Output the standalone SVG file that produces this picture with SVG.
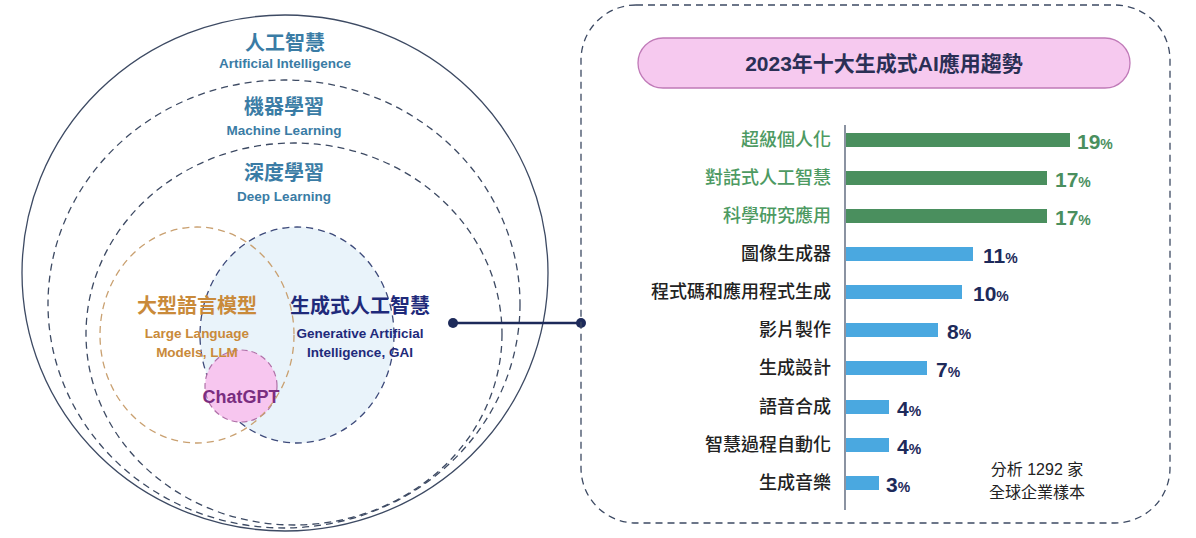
<svg xmlns="http://www.w3.org/2000/svg" width="1196" height="538" viewBox="0 0 1196 538">
<style>
.cj{font-family:"Liberation Sans","Noto Sans CJK TC",sans-serif;text-anchor:middle}
.ai{fill:#3a7ca5}
.en{font-size:13.5px;font-weight:bold}
.zh{font-size:20px;font-weight:bold}
.d{fill:none;stroke:#3d4a63;stroke-width:1.3;stroke-dasharray:7 5}
.lab{font-family:"Noto Sans CJK TC",sans-serif;font-size:18px;font-weight:500;text-anchor:end;fill:#222}
.g{fill:#4d9a62}
.gb{fill:#4a8f5e}
.b{fill:#4aa8e0}
.pct{font-family:"Liberation Sans",sans-serif;font-size:21px;font-weight:bold;fill:#1d2a5a}
.pct tspan{font-size:14px}
.pg{fill:#4a8f5e}
</style>
<rect width="1196" height="538" fill="#fff"/>
<g id="ai">
<ellipse cx="285" cy="273" rx="263" ry="258" fill="none" stroke="#3d4a63" stroke-width="1.3"/>
<text class="cj ai zh" x="285" y="50">人工智慧</text>
<text class="cj ai en" x="285" y="68">Artificial Intelligence</text>
</g>
<g id="ml">
<ellipse cx="284" cy="304" rx="236" ry="224" class="d"/>
<text class="cj ai zh" x="284" y="114">機器學習</text>
<text class="cj ai en" x="284" y="135">Machine Learning</text>
</g>
<g id="dl">
<ellipse cx="294" cy="334" rx="208" ry="191" class="d"/>
<text class="cj ai zh" x="284" y="180">深度學習</text>
<text class="cj ai en" x="284" y="201">Deep Learning</text>
</g>
<g id="gai">
<ellipse cx="297" cy="335" rx="97" ry="108" fill="#e9f3fa" stroke="#3d4a7a" stroke-width="1.3" stroke-dasharray="7 5"/>
</g>
<g id="chatgpt">
<circle cx="241" cy="386" r="36" fill="#f7c6ef" stroke="#b070a8" stroke-width="1.2" stroke-dasharray="6 4"/>
<text class="cj" x="241" y="403" font-size="18" font-weight="bold" fill="#7a2d80">ChatGPT</text>
</g>
<g id="llm">
<ellipse cx="197" cy="335" rx="97" ry="108" fill="none" stroke="#c9a070" stroke-width="1.3" stroke-dasharray="7 5"/>
<text class="cj zh" x="197" y="313" fill="#c98a3a" font-size="19">大型語言模型</text>
<text class="cj en" x="197" y="338" fill="#c98a3a">Large Language</text>
<text class="cj en" x="197" y="357" fill="#c98a3a">Models, LLM</text>
</g>
<g id="gai-text">
<text class="cj zh" x="360" y="313" fill="#1f2a7a" font-size="19">生成式人工智慧</text>
<text class="cj en" x="360" y="338" fill="#1f2a7a">Generative Artificial</text>
<text class="cj en" x="360" y="357" fill="#1f2a7a">Intelligence, GAI</text>
</g>
<g id="connectors">
<line x1="453" y1="323" x2="581" y2="323" stroke="#1d2a5a" stroke-width="2.5"/>
<circle cx="453" cy="323" r="5" fill="#1d2a5a"/>
<circle cx="581" cy="323" r="5" fill="#1d2a5a"/>
</g>
<g id="panel">
<rect x="581" y="5" width="589" height="518" rx="55" fill="none" stroke="#3d4a63" stroke-width="1.3" stroke-dasharray="7 5"/>
<rect x="638" y="38" width="492" height="50" rx="25" fill="#f6c9ef" stroke="#c07ab8" stroke-width="1.3"/>
<text class="cj" x="884" y="71" font-size="21" font-weight="bold" fill="#2a2f55">2023年十大生成式AI應用趨勢</text>
</g>
<g id="chart">
<line x1="845" y1="125" x2="845" y2="510" stroke="#3d4a63" stroke-width="1.2"/>
<text class="lab g" x="831" y="146">超級個人化</text>
<text class="lab g" x="831" y="184">對話式人工智慧</text>
<text class="lab g" x="831" y="222">科學研究應用</text>
<text class="lab" x="831" y="260">圖像生成器</text>
<text class="lab" x="831" y="298">程式碼和應用程式生成</text>
<text class="lab" x="831" y="336">影片製作</text>
<text class="lab" x="831" y="374">生成設計</text>
<text class="lab" x="831" y="413">語音合成</text>
<text class="lab" x="831" y="451">智慧過程自動化</text>
<text class="lab" x="831" y="489">生成音樂</text>
<rect class="gb" x="846" y="133" width="224" height="14"/>
<rect class="gb" x="846" y="171" width="201" height="14"/>
<rect class="gb" x="846" y="209" width="201" height="14"/>
<rect class="b" x="846" y="247" width="127" height="14"/>
<rect class="b" x="846" y="285" width="116" height="14"/>
<rect class="b" x="846" y="323" width="92" height="14"/>
<rect class="b" x="846" y="361" width="81" height="14"/>
<rect class="b" x="846" y="400" width="43" height="14"/>
<rect class="b" x="846" y="438" width="43" height="14"/>
<rect class="b" x="846" y="476" width="33" height="14"/>
<text class="pct pg" x="1077" y="149">19<tspan>%</tspan></text>
<text class="pct pg" x="1055" y="187">17<tspan>%</tspan></text>
<text class="pct pg" x="1055" y="225">17<tspan>%</tspan></text>
<text class="pct" x="983" y="263">11<tspan>%</tspan></text>
<text class="pct" x="973" y="301">10<tspan>%</tspan></text>
<text class="pct" x="947" y="339">8<tspan>%</tspan></text>
<text class="pct" x="936" y="377">7<tspan>%</tspan></text>
<text class="pct" x="897" y="416">4<tspan>%</tspan></text>
<text class="pct" x="897" y="454">4<tspan>%</tspan></text>
<text class="pct" x="886" y="492">3<tspan>%</tspan></text>
<text class="cj" x="1037" y="475" font-size="16" fill="#222">分析 1292 家</text>
<text class="cj" x="1037" y="498" font-size="16" fill="#222">全球企業樣本</text>
</g>
</svg>
